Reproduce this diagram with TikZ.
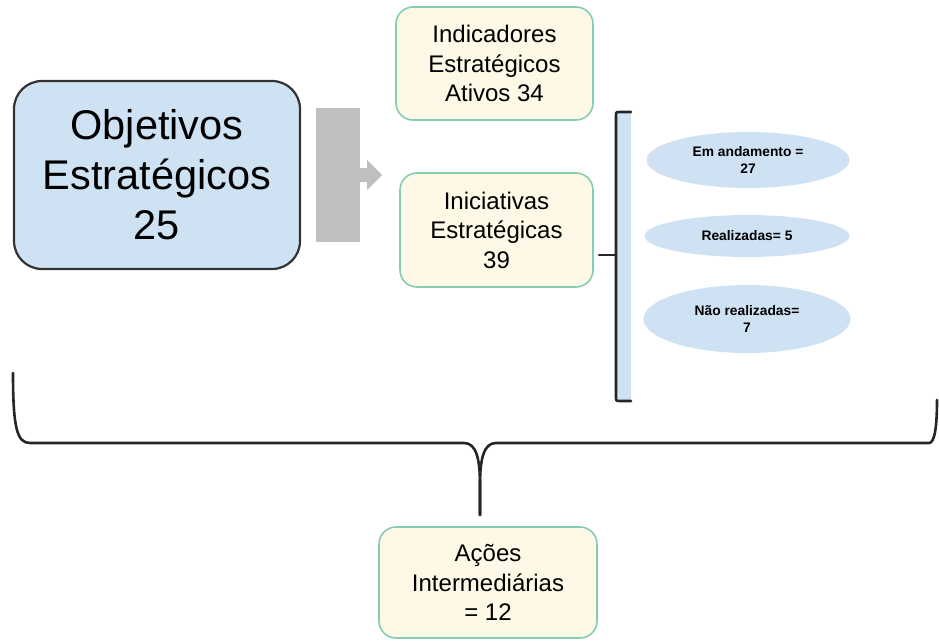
\documentclass[tikz,border=0pt]{standalone}
\usepackage{fontspec}
\setmainfont{Liberation Sans}
\usetikzlibrary{shapes.geometric}

\definecolor{azul}{HTML}{CFE2F3}
\definecolor{creme}{HTML}{FDF9E6}
\definecolor{verde}{HTML}{86CDB0}
\definecolor{cinza}{HTML}{BFBFBF}

\begin{document}
\begin{tikzpicture}[x=1pt, y=-1pt,
    caixa/.style={draw=verde, line width=1.6pt, fill=creme, rounded corners=17pt,
        align=center, inner sep=0pt, font=\fontsize{24}{29.5}\selectfont},
    objetivo/.style={draw=black!80, line width=2.2pt, fill=azul, rounded corners=28pt,
        align=center, inner sep=0pt, font=\fontsize{41.5}{50}\selectfont},
    elipse/.style={ellipse, fill=azul, inner sep=0pt, align=center,
        font=\bfseries\fontsize{13.8}{16.5}\selectfont},
    chave/.style={black!85, line width=2.6pt, line cap=round, line join=round}]
    \useasboundingbox (0,0) rectangle (939,642);

    % Caixas
    \node[objetivo, minimum width=286pt, minimum height=188pt] (obj) at (157,175) {Objetivos\\Estratégicos\\25};
    \node[caixa, minimum width=197pt, minimum height=113pt] (ind) at (494.5,63.5) {Indicadores\\Estratégicos\\Ativos 34};
    \node[caixa, minimum width=193pt, minimum height=114pt] (ini) at (496.5,230) {Iniciativas\\Estratégicas\\39};
    \node[caixa, minimum width=218pt, minimum height=111pt] (acoes) at (488,582.5) {Ações\\Intermediárias\\= 12};

    % Seta cinza
    \fill[cinza] (316,108) rectangle (360,242);
    \fill[cinza] (359,168) -- (367,168) -- (367,160) -- (382,175) -- (367,190) -- (367,182) -- (359,182) -- cycle;

    % Elipses
    \node[elipse, minimum width=203pt, minimum height=56pt] (anda) at (748,160) {Em andamento =\\27};
    \node[elipse, minimum width=205pt, minimum height=42pt] (real) at (747,236) {Realizadas= 5};
    \node[elipse, minimum width=207pt, minimum height=68pt] (nreal) at (747,319) {Não realizadas=\\7};

    % Colchete
    \fill[azul] (616,113) rectangle (631,401);
    \draw[chave] (631,112) -- (619,112) .. controls (616,112) .. (616,115) -- (616,398)
        .. controls (616,401) .. (619,401) -- (631,401);
    \draw[chave] (599,255) -- (616,255);

    % Chave inferior
    \coordinate (ponta) at (480,515);
    \draw[chave] (13,373) .. controls (13,428) and (17,443) .. (30,443) -- (464,443)
        .. controls (476,443) and (480,458) .. (480,485) -- (ponta);
    \draw[chave] (ponta) -- (480,485) .. controls (480,458) and (484,443) .. (496,443)
        -- (929,443) .. controls (934,443) and (937,430) .. (937,400);
\end{tikzpicture}
\end{document}
